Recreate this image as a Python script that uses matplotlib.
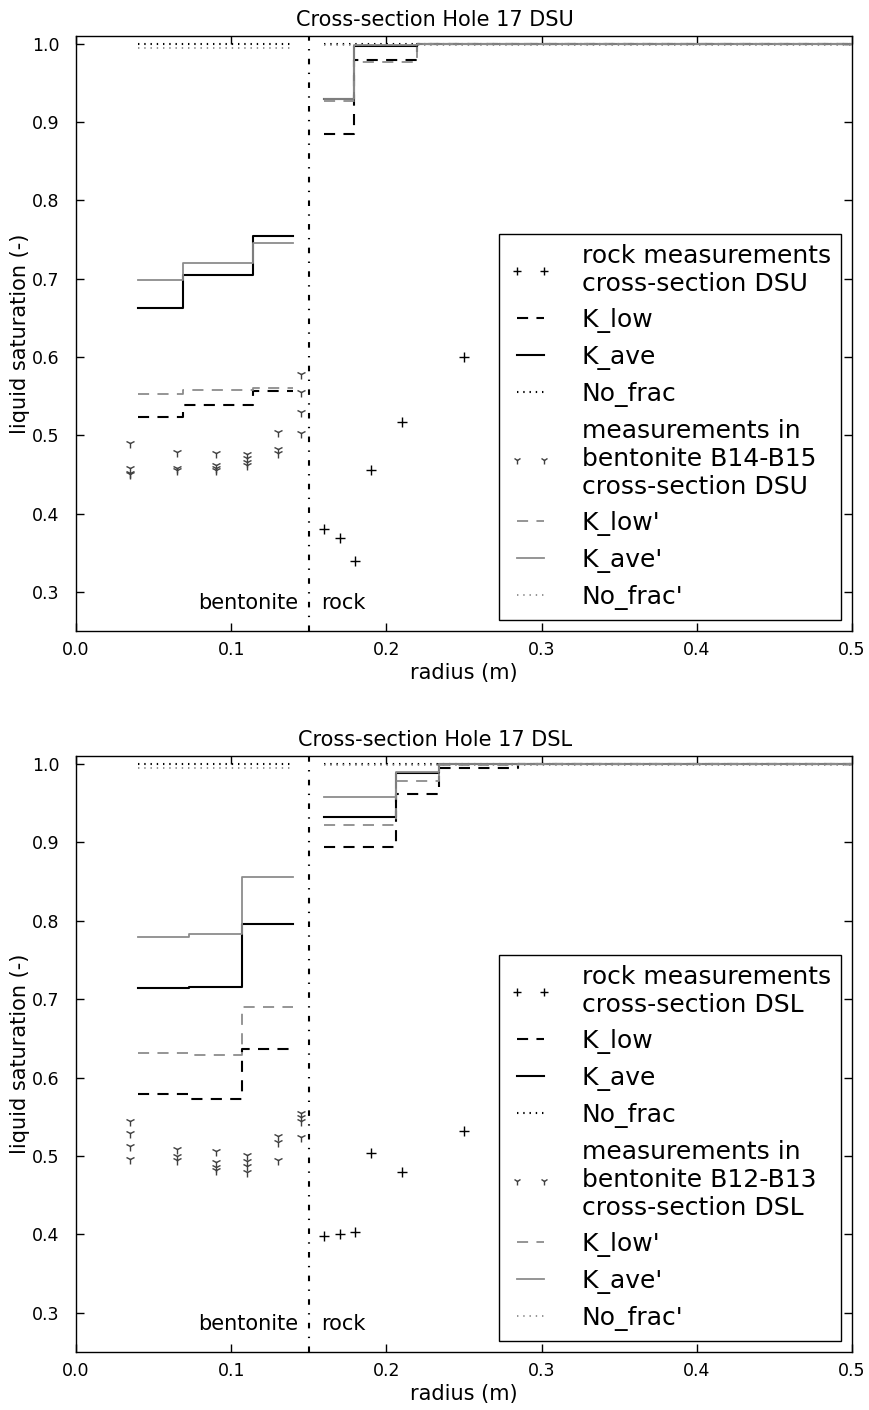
import matplotlib
matplotlib.use("Agg")
import matplotlib.pyplot as plt

plt.rcParams['font.family'] = ['DejaVu Sans']
plt.rcParams['lines.scale_dashes'] = False

# ---- Hole 17 DSU -------------------------------------------------------
dsu_title = "Cross-section Hole 17 DSU"
dsu_rock_r = [0.16, 0.17, 0.18, 0.19, 0.21, 0.25]
dsu_rock_s = [0.380, 0.369, 0.339, 0.456, 0.517, 0.600]
dsu_bent_r = [0.035] * 4 + [0.065] * 3 + [0.09] * 4 + [0.11] * 4 + [0.13] * 3 + [0.145] * 4
dsu_bent_s = [0.490, 0.458, 0.452, 0.450,
              0.479, 0.458, 0.455,
              0.477, 0.462, 0.458, 0.455,
              0.476, 0.471, 0.466, 0.462,
              0.504, 0.482, 0.477,
              0.578, 0.555, 0.530, 0.503]
dsu_bent_edges = [0.04, 0.069, 0.114, 0.14]
dsu_bent_klow = [0.523, 0.538, 0.557]
dsu_bent_kave = [0.662, 0.705, 0.755]
dsu_bent_klow2 = [0.553, 0.558, 0.560]
dsu_bent_kave2 = [0.698, 0.720, 0.746]
dsu_rock_edges = [0.16, 0.179, 0.22, 0.5]
dsu_rock_klow = [0.885, 0.979, 1.0]
dsu_rock_kave = [0.929, 0.997, 1.0]
dsu_rock_klow2 = [0.927, 0.977, 1.0]
dsu_rock_kave2 = [0.930, 0.998, 1.0]
dsu_bent_label = "measurements in\nbentonite B14-B15\ncross-section DSU"
dsu_rock_label = "rock measurements\ncross-section DSU"

# ---- Hole 17 DSL -------------------------------------------------------
dsl_title = "Cross-section Hole 17 DSL"
dsl_rock_r = [0.16, 0.17, 0.18, 0.19, 0.21, 0.25]
dsl_rock_s = [0.398, 0.400, 0.403, 0.504, 0.479, 0.532]
dsl_bent_r = [0.035] * 4 + [0.065] * 3 + [0.09] * 4 + [0.11] * 4 + [0.13] * 3 + [0.145] * 4
dsl_bent_s = [0.544, 0.529, 0.513, 0.496,
              0.509, 0.500, 0.495,
              0.506, 0.492, 0.486, 0.482,
              0.501, 0.494, 0.487, 0.480,
              0.525, 0.518, 0.495,
              0.555, 0.550, 0.545, 0.524]
dsl_bent_edges = [0.04, 0.073, 0.107, 0.14]
dsl_bent_klow = [0.579, 0.573, 0.636]
dsl_bent_kave = [0.714, 0.715, 0.796]
dsl_bent_klow2 = [0.631, 0.629, 0.690]
dsl_bent_kave2 = [0.779, 0.783, 0.856]
dsl_rock_edges = [0.16, 0.206, 0.234, 0.285, 0.5]
dsl_rock_klow = [0.894, 0.961, 0.995, 1.0]
dsl_rock_kave = [0.932, 0.989, 1.0, 1.0]
dsl_rock_klow2 = [0.922, 0.978, 0.998, 1.0]
dsl_rock_kave2 = [0.958, 0.990, 1.0, 1.0]
dsl_bent_label = "measurements in\nbentonite B12-B13\ncross-section DSL"
dsl_rock_label = "rock measurements\ncross-section DSL"

# no fracture runs stay saturated everywhere
nofrac_bent = 1.0
nofrac_bent2 = 0.995
nofrac_rock = 1.0
nofrac_rock2 = 0.999

interface_r = 0.15
yticks = [0.3, 0.4, 0.5, 0.6, 0.7, 0.8, 0.9, 1.0]
xticks = [0.0, 0.1, 0.2, 0.3, 0.4, 0.5]

GREY = '0.55'
DASH = (8, 6)
DOT = (1, 3.5)


def steps(ax, edges, vals, **kw):
    ax.step(edges, list(vals) + [vals[-1]], where='post', **kw)


def panel(ax, title, rock_r, rock_s, bent_r, bent_s,
          b_edges, b_klow, b_kave, b_klow2, b_kave2,
          r_edges, r_klow, r_kave, r_klow2, r_kave2,
          rock_label, bent_label):
    ax.plot(rock_r, rock_s, 'k+', ms=7, mew=1.0, ls='none', label=rock_label)

    steps(ax, b_edges, b_klow, color='k', lw=1.5, dashes=DASH, label='K_low')
    steps(ax, r_edges, r_klow, color='k', lw=1.5, dashes=DASH)
    steps(ax, b_edges, b_kave, color='k', lw=1.5, label='K_ave')
    steps(ax, r_edges, r_kave, color='k', lw=1.5)
    ax.plot([b_edges[0], b_edges[-1]], [nofrac_bent] * 2, color='k', lw=1.5,
            dashes=DOT, label='No_frac')
    ax.plot([r_edges[0], r_edges[-1]], [nofrac_rock] * 2, color='k', lw=1.5, dashes=DOT)

    ax.plot(bent_r, bent_s, ls='none', marker='1', ms=7, mew=1.0, color='0.25',
            label=bent_label)

    steps(ax, b_edges, b_klow2, color=GREY, lw=1.3, dashes=DASH, label="K_low'")
    steps(ax, r_edges, r_klow2, color=GREY, lw=1.3, dashes=DASH)
    steps(ax, b_edges, b_kave2, color=GREY, lw=1.3, label="K_ave'")
    steps(ax, r_edges, r_kave2, color=GREY, lw=1.3)
    ax.plot([b_edges[0], b_edges[-1]], [nofrac_bent2] * 2, color=GREY, lw=1.3,
            dashes=DOT, label="No_frac'")
    ax.plot([r_edges[0], r_edges[-1]], [nofrac_rock2] * 2, color=GREY, lw=1.3, dashes=DOT)

    ax.axvline(interface_r, color='k', lw=1.5, dashes=(4, 6, 1, 6))
    ax.text(interface_r - 0.007, 0.278, 'bentonite', ha='right', va='baseline', fontsize=15)
    ax.text(interface_r + 0.008, 0.278, 'rock', ha='left', va='baseline', fontsize=15)

    ax.set_xlim(0, 0.5)
    ax.set_ylim(0.25, 1.01)
    ax.set_xticks(xticks)
    ax.set_yticks(yticks)
    ax.tick_params(direction='in', length=5.5, width=1, top=True, right=True,
                   labelsize=12.5)
    ax.tick_params(axis='y', pad=12)
    ax.tick_params(axis='x', pad=7)
    for s in ax.spines.values():
        s.set_linewidth(1.0)
    ax.set_xlabel('radius (m)', fontsize=15, labelpad=3)
    ax.set_ylabel('liquid saturation (-)', fontsize=15, labelpad=1)
    # heading sits over the middle of the page
    ax.set_title(title, fontsize=15, pad=7, x=0.4626)

    leg = ax.legend(loc='lower right', fontsize=18, numpoints=2, markerscale=0.85,
                    handlelength=1.7, handletextpad=1.2, labelspacing=0.48,
                    borderpad=0.4, borderaxespad=0.45, fancybox=False,
                    edgecolor='k', framealpha=1)
    leg.get_frame().set_linewidth(1.0)


fig = plt.figure(figsize=(8.7, 14.1), dpi=100)
ax1 = fig.add_axes([0.0874, 0.5525, 0.892, 0.422])
ax2 = fig.add_axes([0.0874, 0.0411, 0.892, 0.4227])

panel(ax1, dsu_title, dsu_rock_r, dsu_rock_s, dsu_bent_r, dsu_bent_s,
      dsu_bent_edges, dsu_bent_klow, dsu_bent_kave, dsu_bent_klow2, dsu_bent_kave2,
      dsu_rock_edges, dsu_rock_klow, dsu_rock_kave, dsu_rock_klow2, dsu_rock_kave2,
      dsu_rock_label, dsu_bent_label)
panel(ax2, dsl_title, dsl_rock_r, dsl_rock_s, dsl_bent_r, dsl_bent_s,
      dsl_bent_edges, dsl_bent_klow, dsl_bent_kave, dsl_bent_klow2, dsl_bent_kave2,
      dsl_rock_edges, dsl_rock_klow, dsl_rock_kave, dsl_rock_klow2, dsl_rock_kave2,
      dsl_rock_label, dsl_bent_label)

fig.savefig('out.png', dpi=100)
